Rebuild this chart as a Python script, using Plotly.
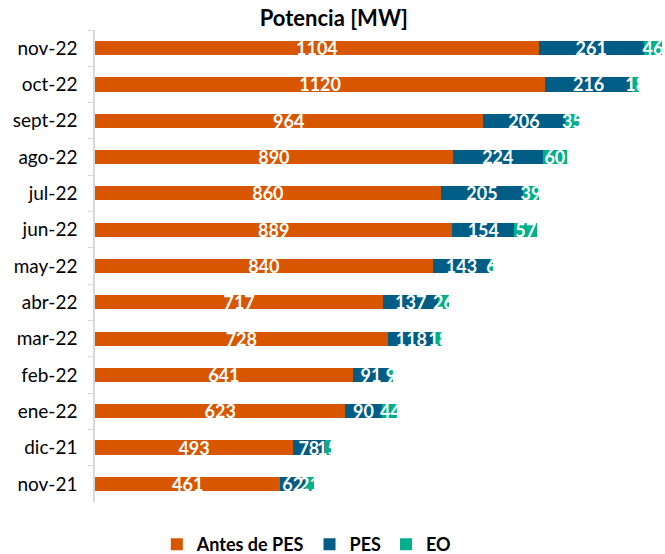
import plotly.graph_objects as go

meses = ["nov-22", "oct-22", "sept-22", "ago-22", "jul-22", "jun-22", "may-22",
         "abr-22", "mar-22", "feb-22", "ene-22", "dic-21", "nov-21"]
antes_pes = [1104, 1120, 964, 890, 860, 889, 840, 717, 728, 641, 623, 493, 461]
pes = [261, 216, 206, 224, 205, 154, 143, 137, 118, 91, 90, 78, 62]
eo = [46, 18, 35, 60, 39, 57, 6, 26, 18, 9, 44, 15, 21]

FONT = "Lato"
colores = {"Antes de PES": "#D95600", "PES": "#005D86", "EO": "#00B08B"}

fig = go.Figure()
for nombre, valores in [("Antes de PES", antes_pes), ("PES", pes), ("EO", eo)]:
    fig.add_trace(go.Bar(
        y=meses, x=valores, name="<b>" + nombre + "</b>", orientation="h",
        marker=dict(color=colores[nombre], line=dict(width=0)),
        text=valores, textposition="inside", insidetextanchor="middle",
        constraintext="none", textangle=0,
        textfont=dict(family=FONT, size=18, color="white", weight="bold"),
        hoverinfo="x+name",
    ))

fig.update_layout(
    barmode="stack",
    bargap=0.61,
    width=665, height=554,
    margin=dict(l=95, r=2, t=30, b=52, autoexpand=False),
    paper_bgcolor="white",
    plot_bgcolor="white",
    font=dict(family=FONT, size=18, color="#000000"),
    title=dict(text="<b>Potencia [MW]</b>", x=0.502, xref="container",
               xanchor="center", y=0.967, yanchor="middle",
               font=dict(family=FONT, size=22, color="#000000")),
    xaxis=dict(visible=False, range=[0, 1413], fixedrange=True),
    yaxis=dict(autorange="reversed", showline=True, linecolor="#d9d9d9",
               linewidth=1.5, ticks="outside", tickson="boundaries",
               ticklen=5, tickcolor="#d9d9d9", ticklabelstandoff=12,
               automargin=False,
               tickfont=dict(family=FONT, size=19, color="#000000")),
    legend=dict(orientation="h", x=0.372, xanchor="center", y=-0.09,
                yanchor="middle", traceorder="normal",
                font=dict(family=FONT, size=18),
                itemwidth=30),
    showlegend=True,
)

# quitar el margen del body para que la figura quede en (0, 0)
fig.write_html("out.html", config={"displayModeBar": False},
               post_script="document.body.style.margin='0';")
